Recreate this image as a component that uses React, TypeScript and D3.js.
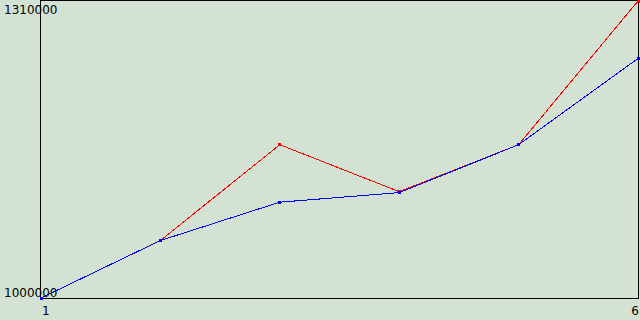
import React from "react";
import * as d3 from "d3";

const categories = [1, 2, 3, 4, 5, 6];
const redValues = [1000000, 1060000, 1160000, 1111000, 1160000, 1310000];
const blueValues = [1000000, 1060000, 1100000, 1110000, 1160000, 1250000];
const yTickLabels = ["1000000", "1310000"];
const xTickLabels = ["1", "6"];

const W = 640;
const H = 320;
const left = 40.5;
const right = 638.5;
const top = 0.5;
const bottom = 298.5;

export default function App() {
  const x = d3.scaleLinear().domain([1, 6]).range([41, 638]);
  const y = d3.scaleLinear().domain([1000000, 1310000]).range([298, 1]);
  const line = d3
    .line<number>()
    .x((_, i) => x(categories[i]))
    .y((d) => y(d));

  const series = [
    { values: redValues, color: "#ff0000" },
    { values: blueValues, color: "#0000ff" },
  ];

  return (
    <svg
      width={W}
      height={H}
      style={{ position: "absolute", left: 0, top: 0, display: "block" }}
      fontFamily="DejaVu Sans"
      fontSize={12}
    >
      <rect x={0} y={0} width={W} height={H} fill="#d4e2d4" />
      <g shapeRendering="crispEdges">
        <line x1={left} y1={top} x2={right} y2={top} stroke="#000" />
        <line x1={right} y1={top} x2={right} y2={bottom} stroke="#000" />
        <line x1={left} y1={0} x2={left} y2={bottom} stroke="#000" />
        <line x1={left} y1={bottom} x2={right} y2={bottom} stroke="#000" />
      </g>
      {series.map((s, si) => (
        <g key={si}>
          <path
            d={line(s.values) || ""}
            fill="none"
            stroke={s.color}
            strokeWidth={1}
            shapeRendering="crispEdges"
          />
          {s.values.map((v, i) => (
            <rect
              key={i}
              x={x(categories[i]) - 1.5}
              y={y(v) - 1.5}
              width={3}
              height={3}
              fill={s.color}
              shapeRendering="crispEdges"
            />
          ))}
        </g>
      ))}
      <text x={4} y={14} fill="#000">{yTickLabels[1]}</text>
      <text x={4} y={297} fill="#000">{yTickLabels[0]}</text>
      <text x={42} y={315} fill="#000">{xTickLabels[0]}</text>
      <text x={639} y={315} fill="#000" textAnchor="end">{xTickLabels[1]}</text>
    </svg>
  );
}
